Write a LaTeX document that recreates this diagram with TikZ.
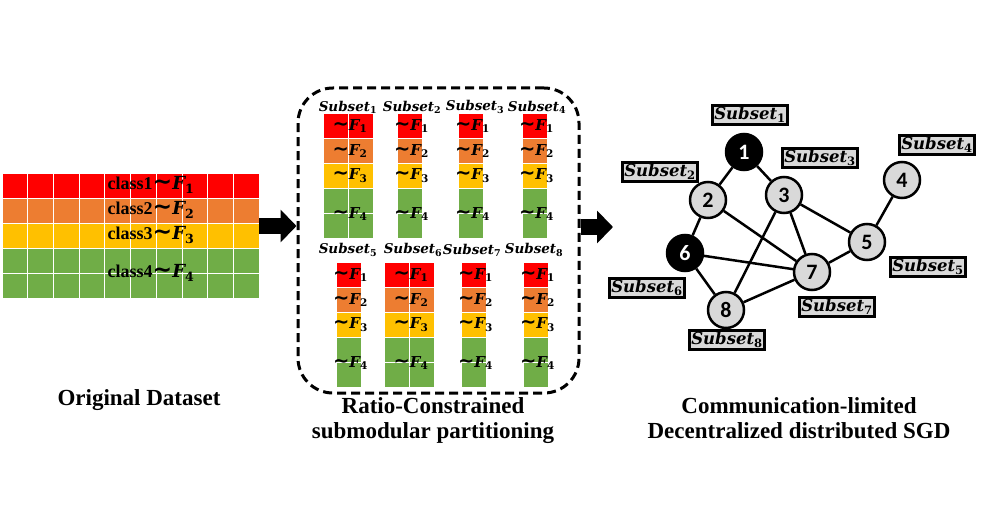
\documentclass[tikz,border=0pt]{standalone}
\usepackage{fontspec}
\setmainfont{Liberation Serif}
\newfontfamily\numfont{Carlito}
\newfontfamily\symfont{DejaVu Serif}
\newfontfamily\opfont[Scale=1.3]{DejaVu Sans}
\usetikzlibrary{positioning,arrows.meta}

\definecolor{cred}{HTML}{FF0000}
\definecolor{corange}{HTML}{ED7D31}
\definecolor{cyellow}{HTML}{FFC000}
\definecolor{cgreen}{HTML}{70AD47}
\definecolor{nodegray}{HTML}{D9D9D9}
\newcommand{\subs}[1]{\textsubscript{\upshape\bfseries #1}}
\newcommand{\tildeF}[1]{{\opfont\bfseries ∼}{\symfont\bfseries\itshape F\subs{#1}}}
\newcommand{\setlab}[1]{{\symfont\bfseries\itshape Subset\subs{#1}}}

\begin{document}
\begin{tikzpicture}[x=1pt, y=-1pt,
    cell/.style={draw=white, line width=0.7pt},
    ftext/.style={font=\fontsize{15}{15}\selectfont, inner sep=0pt},
    sublab/.style={font=\fontsize{13.5}{13.5}\selectfont, inner sep=0pt},
    gnode/.style={circle, draw, line width=2.5pt, fill=nodegray, minimum size=36pt, inner sep=0pt, font=\numfont\bfseries\fontsize{22}{22}\selectfont},
    hub/.style={gnode, fill=black, text=white},
    tag/.style={draw, line width=2.5pt, fill=nodegray, inner sep=2pt, font=\fontsize{16.5}{16.5}\selectfont},
    link/.style={line width=2.5pt},
    blockarrow/.style={line width=16pt, -{Triangle[width=32pt, length=16pt]}},
    caption/.style={font=\bfseries\fontsize{23}{25}\selectfont, align=center}]
    \useasboundingbox (0,0) rectangle (985,521);

    % original dataset
    \foreach \r/\col in {0/cred,1/corange,2/cyellow,3/cgreen,4/cgreen}
        \foreach \c in {0,...,9}
            \filldraw[fill=\col, cell] (2+\c*25.7, 173+\r*25) rectangle ++(25.7,25);
    \foreach \k/\yy in {1/185,2/210,3/235,4/273}
        \node[font=\fontsize{18}{18}\selectfont, inner sep=0pt] (cls\k) at (151,\yy) {\textbf{class\k}\tildeF{\k}};
    \node[caption] (origcap) at (139,400) {Original Dataset};

    % partitioned subsets
    \node[draw, line width=3pt, dash pattern=on 9pt off 5pt, rounded corners=35pt, minimum width=281pt, minimum height=305pt] (part) at (438.5,240.5) {};
    \foreach \i/\x/\y/\n/\lx/\ly in {1/323/113/2/348/107, 2/397/113/1/412/107, 3/458/113/1/475/107, 4/522/113/1/537/107,
                                   5/336/262/1/348/250, 6/384/262/2/413/250, 7/461/262/1/472/250, 8/523/262/1/534/250} {
        \foreach \r/\col in {0/cred,1/corange,2/cyellow,3/cgreen,4/cgreen}
            \foreach \c in {1,...,\n}
                \filldraw[fill=\col, cell] (\x+\c*25-25, \y+\r*25) rectangle ++(25,25);
        \foreach \k/\dy in {1/13,2/38,3/63,4/101}
            \node[ftext] (f\i\k) at (\x+\n*12.5+2, \y+\dy) {\tildeF{\k}};
        \node[sublab] (sub\i) at (\lx,\ly) {\setlab{\i}};
    }
    \node[caption] (partcap) at (433,421) {Ratio-Constrained\\submodular partitioning};

    % arrows between stages
    \coordinate (dataE) at (259,226);
    \coordinate (graphW) at (613,227);
    \draw[blockarrow] (dataE) -- (dataE -| part.west);
    \draw[blockarrow] (part.east |- graphW) -- (graphW);

    % communication graph
    \node[hub]   (n1) at (744,152) {1};
    \node[gnode] (n2) at (708,200) {2};
    \node[gnode] (n3) at (784,195) {3};
    \node[gnode] (n4) at (902,180) {4};
    \node[gnode] (n5) at (867,242) {5};
    \node[hub]   (n6) at (685,253) {6};
    \node[gnode] (n7) at (812,272) {7};
    \node[gnode] (n8) at (726,310) {8};
    \foreach \a/\b in {1/2,1/3,2/6,2/7,3/5,3/7,3/8,6/7,6/8,8/7,7/5,5/4}
        \draw[link] (n\a) -- (n\b);

    \node[tag] (t1) at (750,115) {\setlab{1}};
    \node[tag] (t2) at (660,172) {\setlab{2}};
    \node[tag] (t3) at (820,158) {\setlab{3}};
    \node[tag] (t4) at (937,145) {\setlab{4}};
    \node[tag] (t5) at (928,267) {\setlab{5}};
    \node[tag] (t6) at (647,288) {\setlab{6}};
    \node[tag] (t7) at (837,307) {\setlab{7}};
    \node[tag] (t8) at (727,340) {\setlab{8}};
    \node[caption] (graphcap) at (799,418) {Communication-limited\\Decentralized distributed SGD};
\end{tikzpicture}
\end{document}
